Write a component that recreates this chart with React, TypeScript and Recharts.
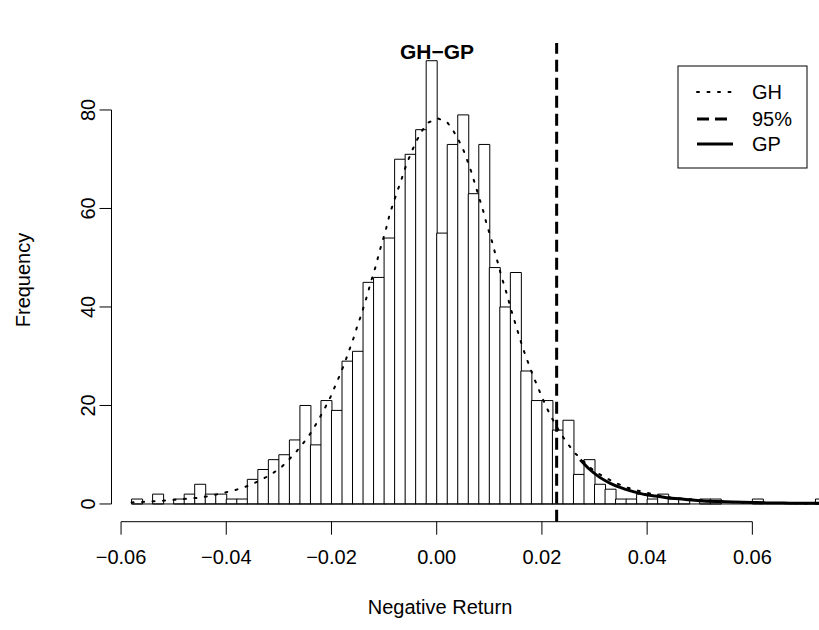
import React from 'react';
import { ComposedChart, Bar, Line, XAxis, YAxis, ReferenceLine } from 'recharts';

// ---------- data ----------
const binStarts = [
  -0.058, -0.056, -0.054, -0.052, -0.05, -0.048, -0.046, -0.044, -0.042, -0.04,
  -0.038, -0.036, -0.034, -0.032, -0.03, -0.028, -0.026, -0.024, -0.022, -0.02,
  -0.018, -0.016, -0.014, -0.012, -0.01, -0.008, -0.006, -0.004, -0.002, 0.0,
  0.002, 0.004, 0.006, 0.008, 0.01, 0.012, 0.014, 0.016, 0.018, 0.02,
  0.022, 0.024, 0.026, 0.028, 0.03, 0.032, 0.034, 0.036, 0.038, 0.04,
  0.042, 0.044, 0.046, 0.048, 0.05, 0.052, 0.054, 0.056, 0.058, 0.06,
  0.062, 0.064, 0.066, 0.068, 0.07, 0.072,
];
const counts = [
  1, 0, 2, 0, 1, 2, 4, 2, 2, 1,
  1, 5, 7, 9, 10, 13, 20, 12, 21, 19,
  29, 31, 45, 46, 54, 70, 71, 76, 90, 55,
  73, 79, 63, 73, 48, 40, 47, 27, 21, 21,
  15, 17, 6, 9, 4, 3, 1, 1, 2, 1,
  2, 1, 1, 0, 1, 1, 0, 0, 0, 1,
  0, 0, 0, 0, 0, 1,
];
const binWidth = 0.002;

const ghX = [
  -0.058, -0.0571, -0.055, -0.0529, -0.0509, -0.0489, -0.0468, -0.0447, -0.0427, -0.0408,
  -0.0387, -0.0368, -0.0349, -0.033, -0.0312, -0.0295, -0.0281, -0.0267, -0.0254, -0.0242,
  -0.0231, -0.0221, -0.0211, -0.0202, -0.0194, -0.0186, -0.0178, -0.0171, -0.0164, -0.0157,
  -0.0151, -0.0144, -0.0138, -0.0132, -0.0127, -0.0121, -0.0115, -0.011, -0.0104, -0.0096,
  -0.0089, -0.0081, -0.0075, -0.0068, -0.0062, -0.0055, -0.0047, -0.0038, -0.0029, -0.0017,
  0.0002, 0.002, 0.0032, 0.0042, 0.0051, 0.0058, 0.0065, 0.0071, 0.0077, 0.0083,
  0.0089, 0.0094, 0.01, 0.0106, 0.0111, 0.0117, 0.0122, 0.0128, 0.0134, 0.0139,
  0.0145, 0.0151, 0.0157, 0.0163, 0.017, 0.0177, 0.0184, 0.0192, 0.02, 0.0208,
  0.0217, 0.0227, 0.0238, 0.025, 0.0262, 0.0276, 0.029, 0.0307, 0.0325, 0.0344,
  0.0363, 0.0383, 0.0403, 0.0423, 0.0443, 0.0464, 0.0485, 0.0505, 0.0526, 0.0546,
  0.0567, 0.06, 0.065, 0.07, 0.074,
];
const ghY = [
  0.32, 0.35, 0.47, 0.6, 0.75, 0.95, 1.1, 1.35, 1.7, 2.2,
  2.7, 3.3, 4.1, 5.1, 6.2, 7.5, 9.0, 10.6, 12.3, 14.0,
  15.9, 17.8, 19.8, 21.7, 23.7, 25.7, 27.8, 29.8, 31.9, 34.0,
  36.1, 38.2, 40.3, 42.4, 44.4, 46.5, 48.6, 50.8, 53.0, 56.0,
  59.0, 61.5, 63.5, 65.5, 67.6, 69.6, 71.7, 73.8, 75.6, 77.4,
  78.3, 77.5, 75.7, 73.8, 71.8, 69.8, 67.7, 65.6, 63.5, 61.4,
  59.3, 57.2, 55.1, 53.0, 50.9, 48.7, 46.6, 44.5, 42.4, 40.3,
  38.2, 36.1, 34.0, 31.9, 29.8, 27.8, 25.8, 23.8, 21.7, 19.8,
  17.8, 15.9, 13.9, 12.1, 10.4, 9.0, 7.5, 6.2, 5.1, 4.1,
  3.3, 2.7, 2.2, 1.7, 1.35, 1.1, 0.95, 0.75, 0.6, 0.47,
  0.35, 0.27, 0.18, 0.12, 0.09,
];

const gpX = [0.0273, 0.029, 0.031, 0.033, 0.035, 0.0367, 0.039, 0.0415, 0.0437, 0.047, 0.05, 0.0535, 0.0564, 0.06, 0.0627, 0.067, 0.0722, 0.074];
const gpY = [9.0, 7.1, 5.4, 4.2, 3.3, 2.7, 2.05, 1.6, 1.28, 0.95, 0.67, 0.5, 0.41, 0.3, 0.22, 0.17, 0.14, 0.13];

const var95 = 0.0228;

const xTicks = [-0.06, -0.04, -0.02, 0, 0.02, 0.04, 0.06];
const xTickLabels = ['\u22120.06', '\u22120.04', '\u22120.02', '0.00', '0.02', '0.04', '0.06'];
const yTicks = [0, 20, 40, 60, 80];
const yTickLabels = ['0', '20', '40', '60', '80'];

const title = 'GH\u2212GP';
const xLabel = 'Negative Return';
const yLabel = 'Frequency';
const legendLabels = ['GH', '95%', 'GP'];

// ---------- layout ----------
const W = 840;
const H = 630;
const plotLeft = 60;
const plotTop = 43;
const plotRight = 826;
const plotBottom = 521.7;
const yAxisPx = 111.5;
const tickLen = 12;
const pxPerUnit = (752.3 - 121) / 0.12;
const xMax = 0.074;
const xMin = xMax - (plotRight - plotLeft) / pxPerUnit;
const yMin = -3.6;
const yMax = 93.6;
const catPadLeft = (binStarts[0] - xMin) * pxPerUnit;
const yAxisX = xMin + (yAxisPx - plotLeft) / pxPerUnit;
const yTickX0 = yAxisX - tickLen / pxPerUnit;

const FONT = '"Liberation Sans", Arial, Helvetica, sans-serif';
const FS = 20;

const histData = binStarts.map((b, i) => ({ bin: (b + binWidth / 2).toFixed(3), count: counts[i] }));
const ghData = ghX.map((x, i) => ({ x, y: ghY[i] }));
const gpData = gpX.map((x, i) => ({ x, y: gpY[i] }));

const XTick = (props: any) => {
  const { x, y, payload } = props;
  const idx = xTicks.indexOf(payload.value);
  return (
    <text x={x} y={y + 29} textAnchor="middle" fontFamily={FONT} fontSize={FS} fill="#000">
      {idx >= 0 ? xTickLabels[idx] : ''}
    </text>
  );
};

const YTick = (props: any) => {
  const { y, payload } = props;
  const idx = yTicks.indexOf(payload.value);
  const bx = yAxisPx - tickLen - 4;
  return (
    <text x={bx} y={y} textAnchor="middle" transform={`rotate(-90, ${bx}, ${y})`} fontFamily={FONT} fontSize={FS} fill="#000">
      {idx >= 0 ? yTickLabels[idx] : ''}
    </text>
  );
};

const legendStyles = [
  { strokeWidth: 2, dash: '2 8.5' },
  { strokeWidth: 3, dash: '12 6' },
  { strokeWidth: 3, dash: undefined as string | undefined },
];
const legendRowsY = [92, 119, 144];

export default function App() {
  return (
    <div style={{ position: 'absolute', left: 0, top: 0, width: 819, height: 630, overflow: 'hidden', background: '#fff' }}>
      <ComposedChart
        width={W}
        height={H}
        data={histData}
        margin={{ top: plotTop, right: W - plotRight, bottom: 0, left: 0 }}
        barCategoryGap={0}
        barGap={0}
      >
        <XAxis
          xAxisId="num"
          dataKey="x"
          type="number"
          domain={[xMin, xMax]}
          allowDataOverflow
          ticks={xTicks}
          interval={0}
          height={H - plotBottom}
          axisLine={false}
          tickLine={{ stroke: '#000', strokeWidth: 1 }}
          tickSize={13}
          tickMargin={0}
          tick={<XTick />}
        />
        <XAxis xAxisId="cat" dataKey="bin" type="category" orientation="top" height={0} hide padding={{ left: catPadLeft, right: 0 }} />
        <YAxis
          yAxisId="y"
          type="number"
          domain={[yMin, yMax]}
          allowDataOverflow
          ticks={yTicks}
          interval={0}
          width={plotLeft}
          axisLine={false}
          tickLine={false}
          tickSize={0}
          tickMargin={0}
          tick={<YTick />}
        />
        <Bar xAxisId="cat" yAxisId="y" dataKey="count" fill="#fff" stroke="#000" strokeWidth={1} isAnimationActive={false} />
        <ReferenceLine xAxisId="num" yAxisId="y" segment={[{ x: binStarts[0], y: 0 }, { x: xMax, y: 0 }]} stroke="#000" strokeWidth={1} ifOverflow="visible" />
        <ReferenceLine xAxisId="num" yAxisId="y" segment={[{ x: xTicks[0], y: yMin }, { x: xTicks[xTicks.length - 1], y: yMin }]} stroke="#000" strokeWidth={1} ifOverflow="visible" />
        <ReferenceLine xAxisId="num" yAxisId="y" segment={[{ x: yAxisX, y: yTicks[0] }, { x: yAxisX, y: yTicks[yTicks.length - 1] }]} stroke="#000" strokeWidth={1} ifOverflow="visible" />
        {yTicks.map((t) => (
          <ReferenceLine key={`yt${t}`} xAxisId="num" yAxisId="y" segment={[{ x: yTickX0, y: t }, { x: yAxisX, y: t }]} stroke="#000" strokeWidth={1} ifOverflow="visible" />
        ))}
        <Line xAxisId="num" yAxisId="y" data={ghData} dataKey="y" type="linear" stroke="#000" strokeWidth={2} strokeDasharray="2 8.5" strokeLinecap="round" dot={false} activeDot={false} isAnimationActive={false} />
        <Line xAxisId="num" yAxisId="y" data={gpData} dataKey="y" type="monotone" stroke="#000" strokeWidth={3} dot={false} activeDot={false} isAnimationActive={false} />
        <ReferenceLine xAxisId="num" yAxisId="y" x={var95} stroke="#000" strokeWidth={3} strokeDasharray="12 6" ifOverflow="visible" />
        <text x={437} y={59} textAnchor="middle" fontFamily={FONT} fontSize={21} fontWeight="bold" fill="#000">{title}</text>
        <text x={440} y={614} textAnchor="middle" fontFamily={FONT} fontSize={FS} fill="#000">{xLabel}</text>
        <text x={30} y={280} textAnchor="middle" transform="rotate(-90, 30, 280)" fontFamily={FONT} fontSize={FS} fill="#000">{yLabel}</text>
        <g>
          <rect x={678} y={66} width={129} height={102} fill="#fff" stroke="#000" strokeWidth={1} />
          {legendLabels.map((lab, i) => (
            <g key={lab}>
              <line x1={697} x2={733} y1={legendRowsY[i]} y2={legendRowsY[i]} stroke="#000" strokeWidth={legendStyles[i].strokeWidth} strokeDasharray={legendStyles[i].dash} strokeLinecap={i === 0 ? 'round' : 'butt'} />
              <text x={752} y={legendRowsY[i] + 7} fontFamily={FONT} fontSize={FS} fill="#000">{lab}</text>
            </g>
          ))}
        </g>
      </ComposedChart>
    </div>
  );
}
